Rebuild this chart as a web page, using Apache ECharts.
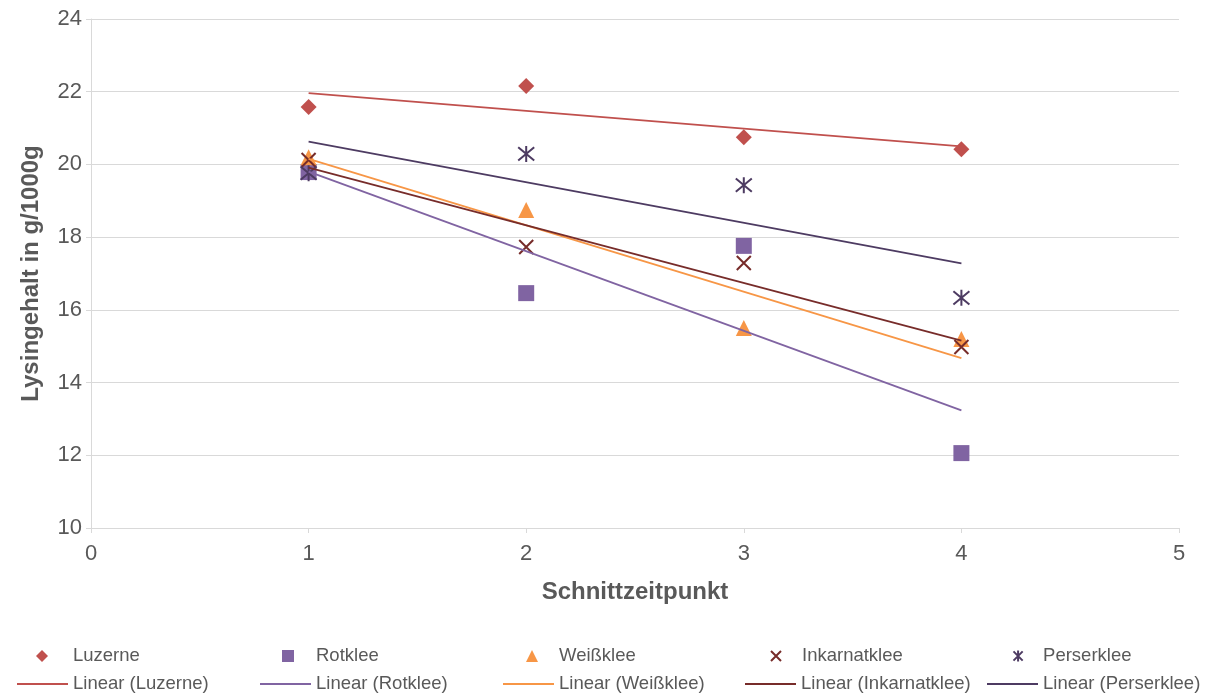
<!DOCTYPE html>
<html>
<head>
<meta charset="utf-8">
<script src="https://cdn.jsdelivr.net/npm/echarts@6/dist/echarts.min.js"></script>
<style>
html,body{margin:0;padding:0;background:#fff;}
#chart{width:1208px;height:695px;}
</style>
</head>
<body>
<div id="chart"></div>
<script>
var xValues = [1, 2, 3, 4];
var seriesNames = ['Luzerne', 'Rotklee', 'Weißklee', 'Inkarnatklee', 'Perserklee'];
var luzerne = [21.58, 22.16, 20.75, 20.42];
var rotklee = [19.79, 16.46, 17.76, 12.06];
var weissklee = [20.20, 18.75, 15.50, 15.20];
var inkarnatklee = [20.12, 17.73, 17.29, 14.98];
var perserklee = [19.76, 20.29, 19.43, 16.33];
var yTicks = [10, 12, 14, 16, 18, 20, 22, 24];
var xTicks = [0, 1, 2, 3, 4, 5];

var allValues = [luzerne, rotklee, weissklee, inkarnatklee, perserklee];
var colors = ['#C0504D', '#8064A2', '#F79646', '#772C2A', '#4D3B62'];
var symbols = ['diamond', 'rect', 'triangle', 'path://M0,0L10,10M10,0L0,10', 'path://M0,0L10,10M10,0L0,10M5,-1L5,11'];
var sizes = [16, 16, 16, 14, 16];
var legendSizes = [12, 12, 12, 10, 11];
var font = '"Liberation Sans", Arial, sans-serif';
var textColor = '#595959';

function linearFit(xs, ys) {
  var n = xs.length, mx = 0, my = 0;
  for (var i = 0; i < n; i++) { mx += xs[i]; my += ys[i]; }
  mx /= n; my /= n;
  var sxy = 0, sxx = 0;
  for (var j = 0; j < n; j++) { sxy += (xs[j] - mx) * (ys[j] - my); sxx += (xs[j] - mx) * (xs[j] - mx); }
  var b = sxy / sxx, a = my - b * mx;
  var x0 = xs[0], x1 = xs[n - 1];
  return [[x0, a + b * x0], [x1, a + b * x1]];
}

var series = [];
seriesNames.forEach(function (name, i) {
  var stroked = i >= 3;
  series.push({
    name: name,
    type: 'scatter',
    symbol: symbols[i],
    symbolSize: sizes[i],
    z: 2,
    itemStyle: stroked ? { color: 'rgba(0,0,0,0)', borderColor: colors[i], borderWidth: 2, opacity: 1 } : { color: colors[i], opacity: 1 },
    emphasis: { disabled: true },
    data: xValues.map(function (x, k) { return [x, allValues[i][k]]; })
  });
});
seriesNames.forEach(function (name, i) {
  series.push({
    name: 'Linear (' + name + ')',
    type: 'line',
    symbol: 'none',
    z: 3,
    silent: true,
    lineStyle: { color: colors[i], width: 1.8 },
    itemStyle: { color: colors[i] },
    data: linearFit(xValues, allValues[i])
  });
});

var textStart = [68, 311, 554, 796, 1038];
var symbolCenter = [37, 283, 527, 770, 1013];
var legends = [];
seriesNames.forEach(function (name, i) {
  var s = legendSizes[i];
  var left = symbolCenter[i] - s / 2;
  var pad = textStart[i] - (left + s + 5);
  legends.push({
    left: left,
    top: 641,
    itemWidth: s,
    itemHeight: s,
    selectedMode: false,
    data: [name],
    textStyle: { color: textColor, fontSize: 18.5, fontFamily: font, lineHeight: 20, padding: [0, 0, 0, pad] }
  });
  legends.push({
    left: textStart[i] - 56,
    top: 669,
    itemWidth: 51,
    itemHeight: 2,
    selectedMode: false,
    data: [{ name: 'Linear (' + name + ')', icon: 'rect' }],
    textStyle: { color: textColor, fontSize: 18.5, fontFamily: font, lineHeight: 20 }
  });
});

var chart = echarts.init(document.getElementById('chart'));
chart.setOption({
  animation: false,
  backgroundColor: '#fff',
  grid: { left: 91, right: 29, top: 19, bottom: 167, containLabel: false },
  legend: legends,
  xAxis: {
    type: 'value',
    min: xTicks[0],
    max: xTicks[xTicks.length - 1],
    interval: 1,
    name: 'Schnittzeitpunkt',
    nameLocation: 'middle',
    nameGap: 52,
    nameTextStyle: { color: textColor, fontSize: 24, fontWeight: 'bold', fontFamily: font },
    axisLine: { show: true, lineStyle: { color: '#D9D9D9', width: 1 } },
    axisTick: { show: true, length: 5, lineStyle: { color: '#D9D9D9' } },
    axisLabel: { color: textColor, fontSize: 22, fontFamily: font, margin: 15 },
    splitLine: { show: false }
  },
  yAxis: {
    type: 'value',
    min: yTicks[0],
    max: yTicks[yTicks.length - 1],
    interval: 2,
    name: 'Lysingehalt in g/1000g',
    nameLocation: 'middle',
    nameRotate: 90,
    nameGap: 48,
    nameTextStyle: { color: textColor, fontSize: 24, fontWeight: 'bold', fontFamily: font },
    axisLine: { show: true, lineStyle: { color: '#D9D9D9', width: 1 } },
    axisTick: { show: true, length: 5, lineStyle: { color: '#D9D9D9' } },
    axisLabel: { color: textColor, fontSize: 22, fontFamily: font, margin: 9 },
    splitLine: { show: true, lineStyle: { color: '#D9D9D9', width: 1 } }
  },
  series: series
});
</script>
</body>
</html>
